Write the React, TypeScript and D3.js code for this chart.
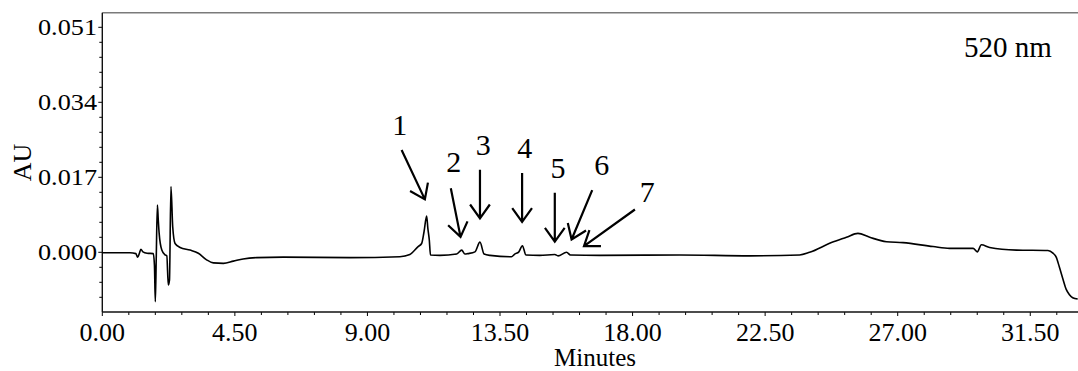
import React, {useRef, useEffect} from 'react';
import * as d3 from 'd3';

// retention time (min) and absorbance (AU)
const times = [
    0, 0.94, 1.14, 1.20, 1.26, 1.31, 1.38, 1.52, 1.73, 1.77, 1.80, 1.83, 1.87, 1.90, 1.93,
    2.02, 2.13, 2.19, 2.24, 2.28, 2.33, 2.39, 2.47, 2.64, 2.98, 3.26, 3.54, 3.77, 4.11, 4.45,
    4.78, 5.24, 6.14, 8.41, 10.10, 10.44, 10.72, 10.84, 10.92, 11.01, 11.05, 11.10, 11.14, 11.46,
    12.03, 12.20, 12.31, 12.41, 12.65, 12.82, 12.96, 13.16, 13.89, 14.00, 14.14, 14.26, 14.38,
    14.85, 15.36, 15.47, 15.76, 15.89, 16.89, 19.60, 21.98, 23.67, 24.01, 24.75, 25.26, 25.65,
    26.05, 26.62, 27.18, 28.20, 28.76, 29.56, 29.70, 29.84, 30.12, 31.03, 32.10, 32.27, 32.38,
    32.49, 32.61, 32.72, 32.83, 32.94, 33.11,
];
const absorbance = [
    -0.0001, -0.0001, -0.0003, -0.0011, -0.0002, 0.0007, 0.0001, -0.0002, -0.0003, -0.0029, -0.0112, -0.0017, 0.0107, 0.0073, 0.0043,
    0.0005, -0.0006, -0.0008, -0.0074, -0.0063, 0.0149, 0.0058, 0.0020, 0.0011, 0.0005, -0.0002, -0.0017, -0.0024, -0.0025, -0.0020,
    -0.0015, -0.0012, -0.0011, -0.0012, -0.0010, -0.0005, 0.0013, 0.0020, 0.0046, 0.0082, 0.0055, 0.0028, -0.0006, -0.0007,
    -0.0004, 0.0005, -0.0004, -0.0003, 0.0001, 0.0023, -0.0004, -0.0007, -0.0010, -0.0004, 0.0001, 0.0015, -0.0006,
    -0.0007, -0.0005, -0.0008, 0.0000, -0.0006, -0.0007, -0.0006, -0.0008, -0.0006, 0.0000, 0.0022, 0.0034, 0.0043,
    0.0034, 0.0024, 0.0022, 0.0013, 0.0009, 0.0009, 0.0001, 0.0017, 0.0011, 0.0005, 0.0004, -0.0002, -0.0011,
    -0.0034, -0.0061, -0.0084, -0.0096, -0.0103, -0.0106,
];

const xTicks = [0, 4.5, 9, 13.5, 18, 22.5, 27, 31.5];
const yTicks = [0, 0.017, 0.034, 0.051];

// peak labels: text position and arrow (from -> to), in minutes / AU
const peakNames = ['1', '2', '3', '4', '5', '6', '7'];
const labelT = [10.10, 11.93, 12.93, 14.34, 15.47, 16.95, 18.50];
const labelAU = [0.0266, 0.0183, 0.0221, 0.0213, 0.0169, 0.0175, 0.0115];
const arrowFromT = [10.16, 11.83, 12.82, 14.25, 15.36, 16.63, 18.08];
const arrowFromAU = [0.0232, 0.0145, 0.0187, 0.0180, 0.0135, 0.0141, 0.0097];
const arrowToT = [10.95, 12.16, 12.82, 14.25, 15.36, 15.93, 16.35];
const arrowToAU = [0.0120, 0.0035, 0.0077, 0.0069, 0.0024, 0.0029, 0.0014];

const W = 1078;
const H = 371;
const FONT = '"Liberation Serif", "Times New Roman", serif';

const Chromatogram: React.FC = () => {
    const svgRef = useRef<SVGSVGElement>(null);

    useEffect(() => {
        if (!svgRef.current) return;
        const svg = d3.select(svgRef.current);
        svg.selectAll('*').remove();

        const left = 102.3, right = W, top = 12.7, bottom = 312;
        const x = d3.scaleLinear().domain([0, 33.12]).range([left, right]);
        const y = d3.scaleLinear().domain([-0.01353, 0.05431]).range([bottom, top]);

        // frame: grey top line, black left/bottom axes
        svg.append('line')
            .attr('x1', left).attr('x2', right).attr('y1', top).attr('y2', top)
            .style('stroke', '#7a7a7a').style('stroke-width', 1.6);

        // minor ticks
        const xMinor = d3.range(0, 33.12, 0.9);
        svg.append('g').selectAll('line').data(xMinor).enter().append('line')
            .attr('x1', d => x(d)).attr('x2', d => x(d))
            .attr('y1', bottom).attr('y2', d => bottom + (xTicks.some(t => Math.abs(t - d) < 1e-6) ? 4 : 3))
            .style('stroke', '#000').style('stroke-width', 1);

        const yMinor = d3.range(-0.0102, 0.0543, 0.0034);
        svg.append('g').selectAll('line').data(yMinor).enter().append('line')
            .attr('x1', left).attr('x2', d => left - (yTicks.some(t => Math.abs(t - d) < 1e-6) ? 4 : 3))
            .attr('y1', d => y(d)).attr('y2', d => y(d))
            .style('stroke', '#000').style('stroke-width', 1);

        svg.append('line')
            .attr('x1', left).attr('x2', left).attr('y1', top).attr('y2', bottom)
            .style('stroke', '#111').style('stroke-width', 1.4);
        svg.append('line')
            .attr('x1', left).attr('x2', right).attr('y1', bottom).attr('y2', bottom)
            .style('stroke', '#111').style('stroke-width', 1.6);

        // tick labels
        svg.append('g').selectAll('text').data(xTicks).enter().append('text')
            .attr('x', d => x(d)).attr('y', 341)
            .attr('text-anchor', 'middle')
            .style('font-family', FONT).style('font-size', '26px')
            .text(d => d.toFixed(2));

        svg.append('g').selectAll('text').data(yTicks).enter().append('text')
            .attr('x', 97).attr('y', d => y(d) + 7.8)
            .attr('text-anchor', 'end')
            .attr('textLength', 59).attr('lengthAdjust', 'spacingAndGlyphs')
            .style('font-family', FONT).style('font-size', '23px')
            .text(d => d.toFixed(3));

        // axis titles
        svg.append('text')
            .attr('x', 595).attr('y', 366)
            .attr('text-anchor', 'middle')
            .style('font-family', FONT).style('font-size', '25px')
            .text('Minutes');

        svg.append('text')
            .attr('transform', 'translate(31,162.5) rotate(-90)')
            .attr('text-anchor', 'middle')
            .style('font-family', FONT).style('font-size', '26px')
            .text('AU');

        svg.append('text')
            .attr('x', 964).attr('y', 56.5)
            .style('font-family', FONT).style('font-size', '29px')
            .text('520 nm');

        // trace
        const pts = times.map((t, i) => [t, absorbance[i]] as [number, number]);
        const line = d3.line<[number, number]>()
            .x(d => x(d[0]))
            .y(d => y(d[1]))
            .curve(d3.curveMonotoneX);
        svg.append('path')
            .attr('d', line(pts))
            .style('fill', 'none')
            .style('stroke', '#000')
            .style('stroke-width', 1.6)
            .style('stroke-linejoin', 'round');

        // peak labels and arrows
        const ann = svg.append('g');
        peakNames.forEach((name, i) => {
            ann.append('text')
                .attr('x', x(labelT[i])).attr('y', y(labelAU[i]))
                .attr('text-anchor', 'middle')
                .style('font-family', FONT).style('font-size', '30px')
                .text(name);

            const x0 = x(arrowFromT[i]), y0 = y(arrowFromAU[i]);
            const x1 = x(arrowToT[i]), y1 = y(arrowToAU[i]);
            const ang = Math.atan2(y1 - y0, x1 - x0);
            const wing = 17, spread = 0.62;
            const path = d3.path();
            path.moveTo(x0, y0);
            path.lineTo(x1, y1);
            path.moveTo(x1 - wing * Math.cos(ang - spread), y1 - wing * Math.sin(ang - spread));
            path.lineTo(x1, y1);
            path.lineTo(x1 - wing * Math.cos(ang + spread), y1 - wing * Math.sin(ang + spread));
            ann.append('path')
                .attr('d', path.toString())
                .style('fill', 'none')
                .style('stroke', '#000')
                .style('stroke-width', 2.2)
                .style('stroke-linecap', 'butt');
        });
    }, []);

    return (
        <svg
            ref={svgRef}
            width={W}
            height={H}
            viewBox={`0 0 ${W} ${H}`}
            style={{position: 'absolute', left: 0, top: 0, background: '#fff'}}
        />
    );
};

export default function App() {
    return <Chromatogram/>;
}
